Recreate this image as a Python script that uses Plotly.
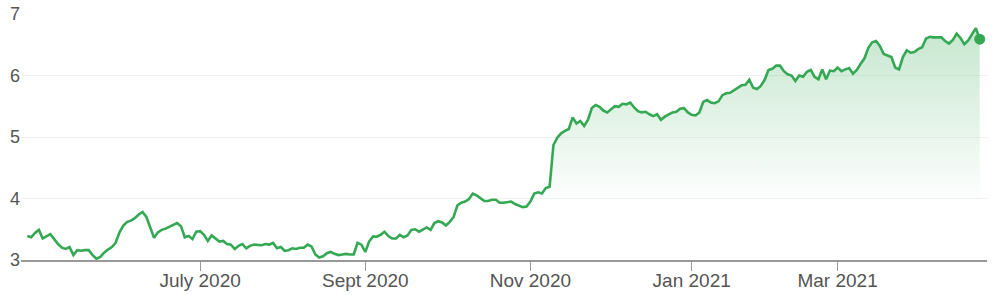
import pandas as pd
import plotly.graph_objects as go

# ---- data ----
start_date = "2020-04-28"
end_date = "2021-04-22"
market_holidays = ["2020-05-25", "2020-07-03", "2020-09-07", "2020-11-26", "2020-12-25",
                   "2021-01-01", "2021-01-18", "2021-02-15", "2021-04-02"]

values = [
    3.39, 3.37, 3.44, 3.49, 3.35, 3.39, 3.42, 3.34, 3.26, 3.20,
    3.18, 3.21, 3.08, 3.16, 3.15, 3.16, 3.16, 3.08, 3.02, 3.05,
    3.12, 3.17, 3.21, 3.28, 3.45, 3.56, 3.62, 3.64, 3.68, 3.74,
    3.78, 3.70, 3.52, 3.36, 3.45, 3.49, 3.51, 3.54, 3.57, 3.60,
    3.55, 3.37, 3.39, 3.34, 3.46, 3.47, 3.41, 3.31, 3.40, 3.35,
    3.30, 3.31, 3.26, 3.25, 3.18, 3.23, 3.26, 3.19, 3.23, 3.25,
    3.25, 3.24, 3.26, 3.25, 3.28, 3.19, 3.21, 3.15, 3.16, 3.19,
    3.18, 3.20, 3.20, 3.25, 3.22, 3.09, 3.04, 3.06, 3.11, 3.13,
    3.10, 3.08, 3.09, 3.10, 3.09, 3.09, 3.28, 3.25, 3.13, 3.30,
    3.38, 3.38, 3.41, 3.46, 3.39, 3.35, 3.35, 3.41, 3.37, 3.40,
    3.49, 3.50, 3.46, 3.50, 3.53, 3.49, 3.60, 3.63, 3.61, 3.56,
    3.62, 3.70, 3.89, 3.93, 3.95, 3.99, 4.08, 4.05, 4.01, 3.96,
    3.96, 3.98, 3.98, 3.93, 3.93, 3.94, 3.95, 3.91, 3.88, 3.86,
    3.87, 3.95, 4.08, 4.10, 4.08, 4.17, 4.19, 4.87, 4.99, 5.06,
    5.10, 5.13, 5.32, 5.22, 5.26, 5.18, 5.28, 5.47, 5.52, 5.49,
    5.43, 5.40, 5.45, 5.50, 5.49, 5.54, 5.53, 5.56, 5.48, 5.42,
    5.40, 5.41, 5.37, 5.34, 5.37, 5.28, 5.33, 5.36, 5.40, 5.41,
    5.46, 5.47, 5.40, 5.36, 5.35, 5.40, 5.57, 5.60, 5.56, 5.55,
    5.58, 5.68, 5.71, 5.72, 5.76, 5.80, 5.84, 5.85, 5.93, 5.80,
    5.78, 5.83, 5.93, 6.09, 6.11, 6.16, 6.16, 6.07, 6.02, 6.00,
    5.91, 6.00, 5.98, 6.06, 6.09, 5.98, 5.94, 6.10, 5.94, 6.08,
    6.07, 6.13, 6.07, 6.10, 6.12, 6.03, 6.09, 6.19, 6.28, 6.45,
    6.54, 6.56, 6.48, 6.35, 6.32, 6.30, 6.13, 6.10, 6.30, 6.41,
    6.37, 6.38, 6.43, 6.46, 6.60, 6.63, 6.62, 6.62, 6.62, 6.56,
    6.52, 6.58, 6.68, 6.61, 6.51, 6.57, 6.66, 6.77, 6.59,
]

tick_months = ["2020-07", "2020-09", "2020-11", "2021-01", "2021-03"]
tick_labels = ["July 2020", "Sept 2020", "Nov 2020", "Jan 2021", "Mar 2021"]
y_ticks = [3, 4, 5, 6, 7]

# ---- build ----
days = pd.bdate_range(start_date, end_date)
days = days[~days.isin(pd.to_datetime(market_holidays))]
dates = [d.strftime("%Y-%m-%d") for d in days][:len(values)]

tickvals = []
for m in tick_months:
    first = next(d for d in dates if d.startswith(m))
    tickvals.append(first)

GREEN = "#34a853"
TEXT = "#555555"

fig = go.Figure()
fig.add_trace(go.Scatter(
    x=dates, y=values, mode="lines",
    line=dict(color=GREEN, width=2.6),
    fill="tozeroy",
    fillgradient=dict(
        type="vertical",
        start=3.9, stop=max(values),
        colorscale=[[0, "rgba(52,168,83,0)"], [1, "rgba(52,168,83,0.28)"]],
    ),
    hoverinfo="skip",
))
fig.add_trace(go.Scatter(
    x=[dates[-1]], y=[values[-1]], mode="markers",
    marker=dict(color=GREEN, size=11),
    hoverinfo="skip",
))

fig.update_layout(
    width=995, height=295,
    margin=dict(l=21, r=8, t=14, b=35, autoexpand=False),
    paper_bgcolor="white", plot_bgcolor="white",
    showlegend=False,
    font=dict(family="Liberation Sans, Arial, sans-serif", size=18, color=TEXT),
)
fig.update_xaxes(
    type="category", automargin=False,
    range=[-1.65, len(values) + 0.9],
    tickvals=tickvals, ticktext=tick_labels,
    showgrid=False, showline=True, linecolor="#999999", linewidth=1.5,
    ticks="outside", ticklen=9, tickcolor="#999999", tickwidth=1,
    ticklabelstandoff=-7,
    tickfont=dict(size=19, color=TEXT),
    zeroline=False,
)
fig.update_yaxes(
    automargin=False,
    range=[3, 7], tickvals=y_ticks,
    showgrid=True, gridcolor="#f1f1f1", gridwidth=1,
    zeroline=False, showline=False, ticks="",
    tickfont=dict(size=18, color=TEXT),
)

fig.write_html("out.html")
